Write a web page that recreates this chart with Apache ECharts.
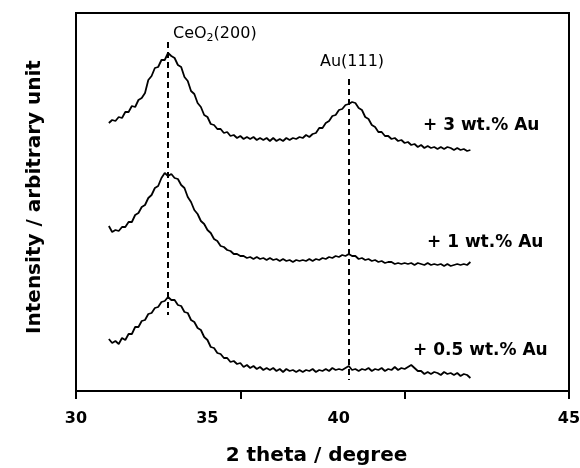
<!DOCTYPE html>
<html>
<head>
<meta charset="utf-8">
<script src="https://cdn.jsdelivr.net/npm/echarts@6/dist/echarts.min.js"></script>
<style>
  html, body { margin: 0; padding: 0; background: #fff; }
  #main { width: 580px; height: 468px; }
</style>
</head>
<body>
<div id="main"></div>
<script>
// 2 theta scan points (degree)
var theta = [
  31.0,31.1,31.2,31.3,31.4,31.5,31.6,31.7,31.8,31.9,
  32.0,32.1,32.2,32.3,32.4,32.5,32.6,32.7,32.8,32.9,
  33.0,33.1,33.2,33.3,33.4,33.5,33.6,33.7,33.8,33.9,
  34.0,34.1,34.2,34.3,34.4,34.5,34.6,34.7,34.8,34.9,
  35.0,35.1,35.2,35.3,35.4,35.5,35.6,35.7,35.8,35.9,
  36.0,36.1,36.2,36.3,36.4,36.5,36.6,36.7,36.8,36.9,
  37.0,37.1,37.2,37.3,37.4,37.5,37.6,37.7,37.8,37.9,
  38.0,38.1,38.2,38.3,38.4,38.5,38.6,38.7,38.8,38.9,
  39.0,39.1,39.2,39.3,39.4,39.5,39.6,39.7,39.8,39.9,
  40.0,40.1,40.2,40.3,40.4,40.5,40.6,40.7,40.8,40.9,
  41.0,41.1,41.2,41.3,41.4,41.5,41.6,41.7,41.8,41.9,
  42.0
];

// intensities (arbitrary, offset per sample)
var au3 = [
  268,271,270,274,273,279,279,285,284,291,
  293,298,311,315,323,324,331,331,338,335,
  333,326,324,314,310,300,297,288,284,276,
  274,267,266,262,262,258,259,255,256,253,
  255,252,254,252,254,251,253,251,253,250,
  253,250,252,250,253,251,253,252,254,253,
  256,254,257,258,263,263,268,270,275,276,
  281,282,286,287,289,288,283,281,274,272,
  266,264,259,259,255,255,252,253,250,251,
  248,249,246,247,244,246,243,245,243,244,
  242,244,242,244,243,241,243,241,242,240,
  241
];
var au1 = [
  165,159,161,160,164,164,169,169,176,178,
  184,186,193,196,203,205,213,218,215,217,
  213,212,206,203,194,189,181,177,170,167,
  161,158,152,150,145,144,141,140,137,137,
  135,135,133,134,132,134,132,133,131,133,
  131,132,130,132,130,131,129,131,130,131,
  130,132,130,132,131,133,132,134,133,135,
  134,136,135,137,135,135,132,133,131,132,
  130,131,129,130,128,129,129,127,128,127,
  128,127,128,126,128,127,126,128,126,127,
  126,127,125,127,125,126,127,126,127,126,
  129
];
var au05 = [
  52,48,50,47,53,51,57,57,64,64,
  70,71,77,78,83,84,89,90,94,91,
  91,86,85,79,78,71,69,63,61,54,
  51,44,43,38,37,33,33,29,30,27,
  28,24,26,23,25,22,24,21,23,21,
  23,20,22,19,22,20,21,19,21,19,
  21,20,22,19,21,20,22,20,23,21,
  22,21,23,25,21,22,20,22,21,23,
  20,22,21,23,20,22,21,24,21,23,
  22,24,26,23,20,20,17,19,17,19,
  18,16,19,17,18,16,18,15,17,16,
  13
];

var xTicks = [30, 35, 40, 45];
// reflection positions and the intensity span of their dashed guides
var peakPos = [32.8, 38.3];
var peakTop = [349, 312];
var peakBottom = [76, 11];
var peakNames = ['CeO2(200)', 'Au(111)'];
var sampleNames = ['+ 3 wt.% Au', '+ 1 wt.% Au', '+ 0.5 wt.% Au'];

function pairs(ys) {
  var out = [];
  for (var i = 0; i < theta.length; i++) {
    out.push([theta[i], ys[i]]);
  }
  return out;
}

var FONT = 'DejaVu Sans';
var guides = [];
for (var i = 0; i < peakPos.length; i++) {
  guides.push([{ coord: [peakPos[i], peakTop[i]] }, { coord: [peakPos[i], peakBottom[i]] }]);
}

var lineBase = {
  type: 'line',
  showSymbol: false,
  symbol: 'none',
  smooth: false,
  lineStyle: { color: '#000', width: 1.8 },
  silent: true
};

var myChart = echarts.init(document.getElementById('main'));
var opt = {
  animation: false,
  backgroundColor: '#fff',
  grid: {
    left: 76, right: 11, top: 13, bottom: 77,
    show: true,
    borderColor: '#000',
    borderWidth: 2,
    containLabel: false,
    outerBoundsMode: 'none'
  },
  xAxis: {
    type: 'value',
    min: xTicks[0],
    max: xTicks[xTicks.length - 1],
    interval: 5,
    name: '2 theta / degree',
    nameLocation: 'middle',
    nameGap: 55,
    nameTextStyle: { fontFamily: FONT, fontWeight: 'bold', fontSize: 20, color: '#000', padding: [0, 12, 0, 0] },
    axisLine: { show: true, lineStyle: { color: '#000', width: 2 } },
    axisTick: { show: true, length: 8, lineStyle: { color: '#000', width: 2 } },
    splitLine: { show: false },
    axisLabel: {
      margin: 20,
      color: '#000',
      fontFamily: FONT,
      fontWeight: 'bold',
      fontSize: 16,
      formatter: function (v) { return '{t' + v + '|' + v + '}'; },
      rich: {
        t30: { fontFamily: FONT, fontWeight: 'bold', fontSize: 16, color: '#000' },
        t35: { fontFamily: FONT, fontWeight: 'bold', fontSize: 16, color: '#000', padding: [0, 66, 0, 0] },
        t40: { fontFamily: FONT, fontWeight: 'bold', fontSize: 16, color: '#000', padding: [0, 132, 0, 0] },
        t45: { fontFamily: FONT, fontWeight: 'bold', fontSize: 16, color: '#000' }
      }
    }
  },
  yAxis: {
    type: 'value',
    min: 0,
    max: 378,
    name: 'Intensity / arbitrary unit',
    nameLocation: 'middle',
    nameRotate: 90,
    nameGap: 31,
    nameTextStyle: { fontFamily: FONT, fontWeight: 'bold', fontSize: 20, color: '#000', padding: [0, 0, 0, 10] },
    axisLine: { show: false },
    axisTick: { show: false },
    axisLabel: { show: false },
    splitLine: { show: false }
  },
  graphic: [
    {
      type: 'text', x: 173, y: 34,
      style: {
        text: '{n|CeO}{s|2}{n|(200)}',
        verticalAlign: 'middle',
        fill: '#000',
        rich: {
          n: { fontFamily: FONT, fontSize: 16, fill: '#000', verticalAlign: 'middle' },
          s: { fontFamily: FONT, fontSize: 11, fill: '#000', verticalAlign: 'middle', padding: [9, 0, 0, 0] }
        }
      }
    },
    {
      type: 'text', x: 320, y: 62,
      style: { text: peakNames[1], fontFamily: FONT, fontSize: 16, fill: '#000', verticalAlign: 'middle' }
    },
    {
      type: 'text', x: 423, y: 126,
      style: { text: sampleNames[0], fontFamily: FONT, fontWeight: 'bold', fontSize: 17, fill: '#000', verticalAlign: 'middle' }
    },
    {
      type: 'text', x: 427, y: 243,
      style: { text: sampleNames[1], fontFamily: FONT, fontWeight: 'bold', fontSize: 17, fill: '#000', verticalAlign: 'middle' }
    },
    {
      type: 'text', x: 413, y: 351,
      style: { text: sampleNames[2], fontFamily: FONT, fontWeight: 'bold', fontSize: 17, fill: '#000', verticalAlign: 'middle' }
    }
  ],
  series: [
    Object.assign({}, lineBase, {
      name: sampleNames[0],
      data: pairs(au3),
      markLine: {
        silent: true,
        symbol: 'none',
        label: { show: false },
        lineStyle: { color: '#000', width: 2, type: [6, 4] },
        data: guides
      }
    }),
    Object.assign({}, lineBase, { name: sampleNames[1], data: pairs(au1) }),
    Object.assign({}, lineBase, { name: sampleNames[2], data: pairs(au05) })
  ]
};
myChart.setOption(opt);
</script>
</body>
</html>
